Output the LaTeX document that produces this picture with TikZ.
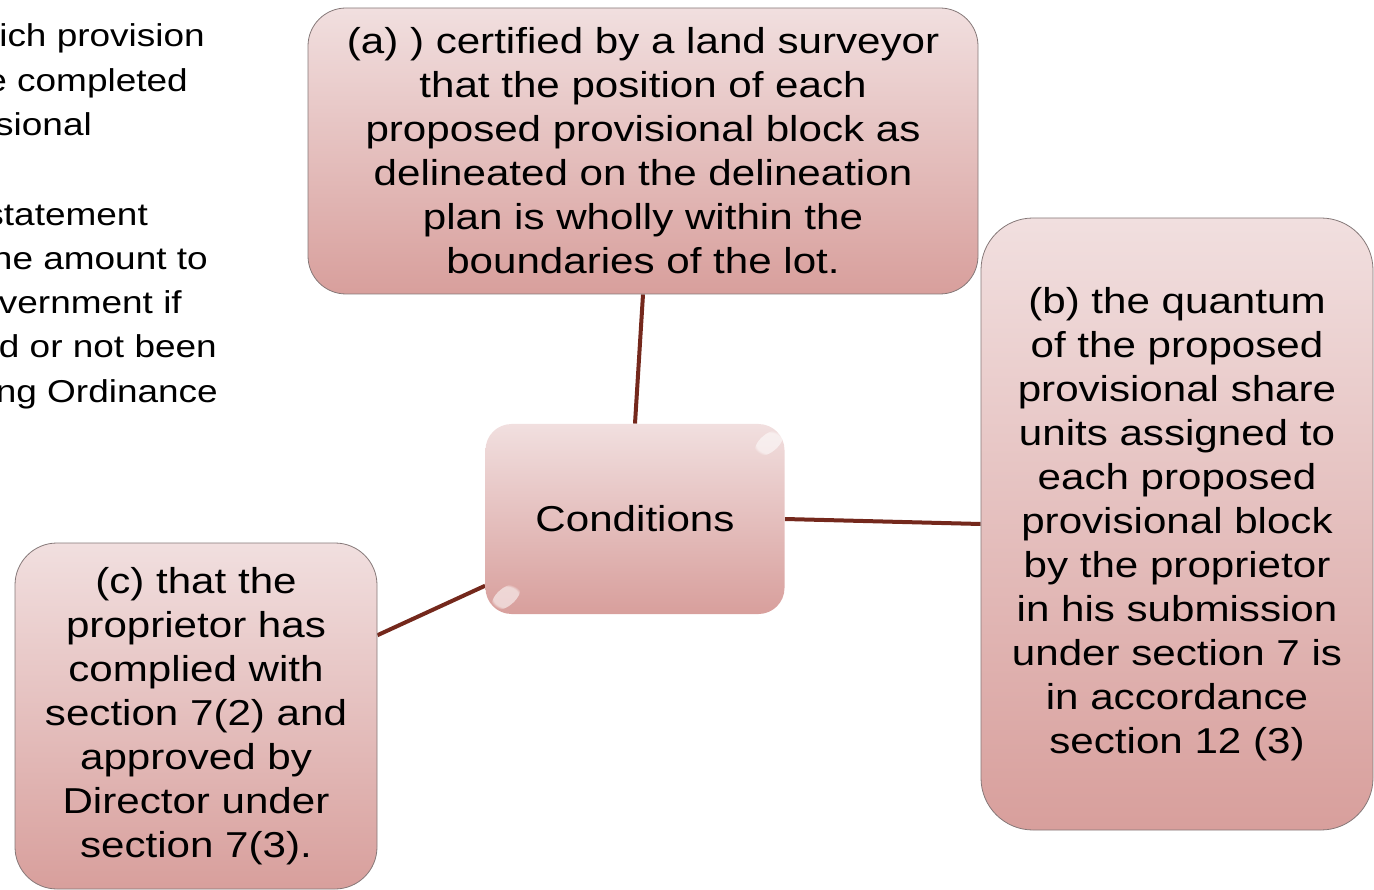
\documentclass[tikz,border=0pt]{standalone}
\usepackage{fontspec}
\setmainfont{Liberation Sans}[FakeStretch=1.17]
\usepackage{tikz}
\usetikzlibrary{positioning, backgrounds, fadings}
\definecolor{boxtop}{HTML}{F1DFDF}
\definecolor{boxbottom}{HTML}{D89F9C}
\definecolor{boxline}{HTML}{857878}
\definecolor{linkbrown}{HTML}{74281C}

\tikzset{
  condbox/.style={rounded corners=#1, top color=boxtop, bottom color=boxbottom,
    draw=boxline, line width=0.8pt, align=center, inner sep=0pt,
    font=\fontsize{36}{44}\selectfont},
  condbox/.default=36pt,
  link/.style={draw=linkbrown, line width=4pt},
  shine/.style={white, path fading=circle with fuzzy edge 20 percent, opacity=.55},
  sidetext/.style={anchor=base east, inner sep=0pt, font=\fontsize{31.6}{44}\selectfont}
}

\begin{document}
\begin{tikzpicture}[x=1pt, y=-1pt]
  \useasboundingbox (0,0) rectangle (1374,890);
  \clip (0,0) rectangle (1374,890);

  % text running in from the left margin
  \foreach \xr/\yb/\txt in {205/47/ich provision, 188/92/e completed, 92/136/sional,
      148/226/statement, 208/270/he amount to, 182/314/vernment if,
      217/358/d or not been, 218/403/ng Ordinance}
    \node[sidetext] at (\xr,\yb) {\txt};

  % centre box
  \node[condbox=26pt, draw=none, minimum width=299pt, minimum height=190pt]
    (cond) at (635,519) {Conditions};
  \fill[shine, rotate around={40:(769,443)}] (769,443) ellipse (17pt and 9pt);
  \fill[shine, rotate around={40:(506,597)}] (506,597) ellipse (17pt and 9pt);

  % the three conditions
  \node[condbox=38pt, minimum width=670pt, minimum height=286pt] (condA) at (643,151)
    {(a) ) certified by a land surveyor\\ that the position of each\\
     proposed provisional block as\\ delineated on the delineation\\
     plan is wholly within the\\ boundaries of the lot.};
  \node[condbox=52pt, minimum width=392pt, minimum height=612pt] (condB) at (1177,524)
    {(b) the quantum\\ of the proposed\\ provisional share\\ units assigned to\\
     each proposed\\ provisional block\\ by the proprietor\\ in his submission\\
     under section 7 is\\ in accordance\\ section 12 (3)};
  \node[condbox=42pt, minimum width=362pt, minimum height=346pt] (condC) at (196,716)
    {(c) that the\\ proprietor has\\ complied with\\ section 7(2) and\\
     approved by\\ Director under\\ section 7(3).};

  \begin{scope}[on background layer]
    \draw[link] (condA.south) -- (cond.north);
    \draw[link] (cond.east) -- (condB.west);
    \draw[link] (cond.204) -- (condC.24);
  \end{scope}
\end{tikzpicture}
\end{document}
